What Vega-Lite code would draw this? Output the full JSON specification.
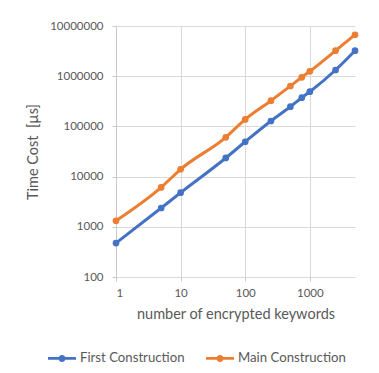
{
  "$schema": "https://vega.github.io/schema/vega-lite/v6.json",
  "autosize": "none",
  "width": 239,
  "height": 251,
  "padding": {"left": 116, "top": 26, "right": 24, "bottom": 96},
  "background": "white",
  "config": {
    "font": "Lato",
    "view": {"stroke": null},
    "axis": {
      "labelFont": "Lato",
      "labelFontSize": 11.5,
      "labelColor": "#595959",
      "titleFont": "Lato",
      "titleFontSize": 14.5,
      "titleFontWeight": "normal",
      "titleColor": "#595959",
      "gridColor": "#d9d9d9",
      "gridWidth": 1,
      "domainColor": "#c8c8c8",
      "tickColor": "#c8c8c8",
      "tickSize": 4
    },
    "legend": {
      "labelFont": "Lato",
      "labelFontSize": 13.2,
      "labelColor": "#595959"
    }
  },
  "data": {
    "values": [
      {"n": 1, "series": "First Construction", "t": 475},
      {"n": 5, "series": "First Construction", "t": 2370},
      {"n": 10, "series": "First Construction", "t": 4790},
      {"n": 50, "series": "First Construction", "t": 23500},
      {"n": 100, "series": "First Construction", "t": 49500},
      {"n": 250, "series": "First Construction", "t": 128000},
      {"n": 500, "series": "First Construction", "t": 247000},
      {"n": 750, "series": "First Construction", "t": 373000},
      {"n": 1000, "series": "First Construction", "t": 491000},
      {"n": 2500, "series": "First Construction", "t": 1330000},
      {"n": 5000, "series": "First Construction", "t": 3220000},
      {"n": 1, "series": "Main Construction", "t": 1320},
      {"n": 5, "series": "Main Construction", "t": 6100},
      {"n": 10, "series": "Main Construction", "t": 14000},
      {"n": 50, "series": "Main Construction", "t": 60700},
      {"n": 100, "series": "Main Construction", "t": 138000},
      {"n": 250, "series": "Main Construction", "t": 325000},
      {"n": 500, "series": "Main Construction", "t": 638000},
      {"n": 750, "series": "Main Construction", "t": 950000},
      {"n": 1000, "series": "Main Construction", "t": 1250000},
      {"n": 2500, "series": "Main Construction", "t": 3220000},
      {"n": 5000, "series": "Main Construction", "t": 6700000}
    ]
  },
  "encoding": {
    "x": {
      "field": "n",
      "type": "quantitative",
      "scale": {"type": "log", "domain": [1, 5000], "nice": false},
      "axis": {
        "title": "number of encrypted keywords",
        "values": [1, 10, 100, 1000],
        "format": "d",
        "labelPadding": 6,
        "titlePadding": 9,
        "domain": false
      }
    },
    "y": {
      "field": "t",
      "type": "quantitative",
      "scale": {"type": "log", "domain": [100, 10000000], "nice": false},
      "axis": {
        "title": "Time Cost\u00a0\u00a0[µs]",
        "values": [100, 1000, 10000, 100000, 1000000, 10000000],
        "format": "d",
        "labelPadding": 9,
        "titlePadding": 9
      }
    },
    "color": {
      "field": "series",
      "type": "nominal",
      "scale": {
        "domain": ["First Construction", "Main Construction"],
        "range": ["#4472C4", "#ED7D31"]
      },
      "legend": {
        "title": null,
        "orient": "none",
        "direction": "horizontal",
        "legendX": -68,
        "legendY": 318,
        "symbolType": "M-1,-0.1L1,-0.1L1,0.1L-1,0.1Z M0.25,0A0.25,0.25,0,1,1,-0.25,0A0.25,0.25,0,1,1,0.25,0Z",
        "symbolSize": 784,
        "labelOffset": 4,
        "columnPadding": 21,
        "encode": {
          "symbols": {
            "update": {
              "fill": {"scale": "color", "field": "value"},
              "stroke": {"value": "transparent"},
              "strokeWidth": {"value": 0},
              "opacity": {"value": 1}
            }
          }
        }
      }
    }
  },
  "layer": [
    {"mark": {"type": "line", "interpolate": "monotone", "strokeWidth": 3}},
    {"mark": {"type": "circle", "size": 45, "opacity": 1}}
  ]
}
